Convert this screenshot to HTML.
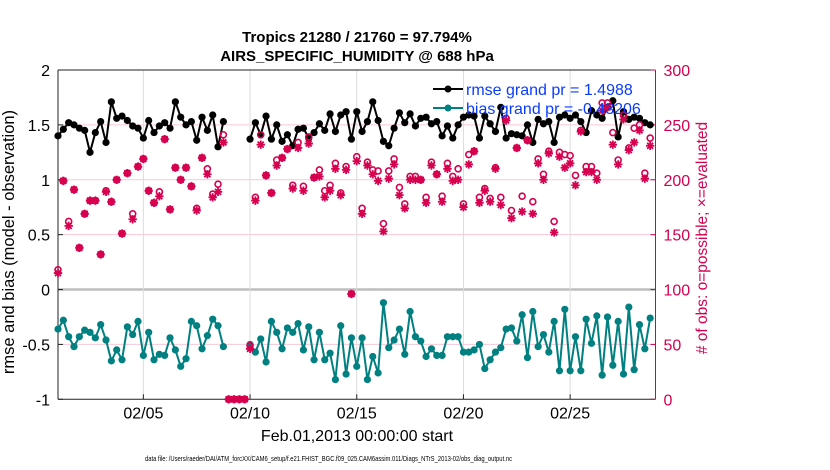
<!DOCTYPE html>
<html><head><meta charset="utf-8"><style>
body{margin:0;background:#fff;}
svg{display:block;font-family:"Liberation Sans",Arial,sans-serif;}
</style></head><body>
<svg id="chart" width="830" height="470" viewBox="0 0 830 470">
<rect width="830" height="470" fill="#fff"/>
<text x="357" y="42" text-anchor="middle" font-size="15" font-weight="bold">Tropics 21280 / 21760 = 97.794%</text>
<text x="357" y="61" text-anchor="middle" font-size="15" font-weight="bold">AIRS_SPECIFIC_HUMIDITY @ 688 hPa</text>
<g id="grid"></g>
<g id="axes"></g>
<g id="marks"></g>
<g id="legend">
<line x1="433" y1="89" x2="463" y2="89" stroke="#000" stroke-width="2"/>
<circle cx="448" cy="89" r="3.5" fill="#000"/>
<text x="466" y="95" font-size="16" fill="#0a3cff">rmse grand pr = 1.4988</text>
<line x1="433" y1="108" x2="463" y2="108" stroke="#008080" stroke-width="2"/>
<circle cx="448" cy="108" r="3.5" fill="#008080"/>
<text x="466" y="114" font-size="16" fill="#0a3cff">bias grand pr = -0.43206</text>
</g>
<text x="357" y="441" text-anchor="middle" font-size="16">Feb.01,2013 00:00:00 start</text>
<text x="14" y="242" text-anchor="middle" font-size="16.5" transform="rotate(-90 14 242)">rmse and bias (model - observation)</text>
<text x="707" y="238" text-anchor="middle" font-size="15.5" fill="#d6004f" transform="rotate(-90 707 238)"># of obs: o=possible; ×=evaluated</text>
<text x="145" y="461" font-size="7.5" textLength="367" lengthAdjust="spacingAndGlyphs">data file: /Users/raeder/DAI/ATM_forcXX/CAM6_setup/f.e21.FHIST_BGC.f09_025.CAM6assim.011/Diags_NTrS_2013-02/obs_diag_output.nc</text>
</svg>
<script>
const rmse=[1.40,1.46,1.52,1.50,1.47,1.45,1.25,1.43,1.53,1.34,1.71,1.56,1.58,1.54,1.49,1.47,1.38,1.54,1.43,1.49,1.52,1.47,1.71,1.57,1.50,1.53,1.36,1.57,1.45,1.59,1.30,1.53,null,null,null,null,1.37,1.52,1.41,1.58,1.37,1.50,1.35,1.41,1.31,1.46,1.47,1.38,1.43,1.51,1.45,1.60,1.44,1.59,1.62,1.37,1.62,1.44,1.53,1.71,1.54,1.35,1.31,1.47,1.61,1.52,1.60,1.49,1.56,1.57,1.51,1.53,1.40,1.49,1.38,1.50,1.57,1.59,1.58,1.38,1.58,1.51,1.44,1.66,1.38,1.42,1.41,1.40,1.50,1.34,1.55,1.51,1.53,1.34,1.57,1.59,1.56,1.59,1.53,1.43,1.63,1.59,1.56,1.66,1.72,1.39,1.62,1.55,1.57,1.56,1.52,1.50];
const bias=[-0.36,-0.28,-0.43,-0.52,-0.43,-0.37,-0.39,-0.44,-0.32,-0.46,-0.65,-0.55,-0.64,-0.34,-0.41,-0.29,-0.60,-0.39,-0.64,-0.59,-0.60,-0.44,-0.55,-0.70,-0.63,-0.29,-0.33,-0.54,-0.42,-0.27,-0.33,-0.52,null,null,null,null,-0.50,-0.57,-0.45,-0.66,-0.29,-0.39,-0.54,-0.35,-0.39,-0.31,-0.55,-0.34,-0.64,-0.39,-0.64,-0.58,-0.82,-0.33,-0.77,-0.44,-0.70,-0.44,-0.82,-0.61,-0.76,-0.12,-0.53,-0.46,-0.36,-0.59,-0.20,-0.43,-0.47,-0.61,-0.54,-0.60,-0.60,-0.43,-0.43,-0.43,-0.57,-0.57,-0.55,-0.50,-0.72,-0.64,-0.57,-0.53,-0.36,-0.35,-0.47,-0.23,-0.62,-0.20,-0.52,-0.41,-0.57,-0.29,-0.74,-0.18,-0.74,-0.43,-0.74,-0.27,-0.49,-0.24,-0.78,-0.25,-0.69,-0.29,-0.77,-0.16,-0.73,-0.32,-0.54,-0.26];
const evaluated=[115,199,158,191,138,169,181,181,132,189,180,200,151,206,164,212,219,190,179,185,237,173,211,200,211,194,172,220,205,184,189,234,0,0,0,0,46,181,232,204,188,213,220,228,192,229,190,233,202,203,184,190,210,186,209,96,217,169,213,205,199,153,201,214,186,174,200,200,200,179,213,205,180,210,199,200,175,214,226,179,190,180,210,177,254,165,229,171,236,169,215,200,224,152,221,211,215,195,244,207,207,200,263,266,232,214,255,227,234,245,201,231];
const possible=[118,199,162,191,138,169,181,181,132,190,180,200,151,206,169,212,219,190,179,189,237,173,211,200,211,194,174,220,210,187,196,241,0,0,0,0,49,184,241,204,188,218,220,228,195,234,194,239,202,209,190,195,215,188,212,96,221,174,216,209,208,160,208,219,193,178,203,203,200,184,216,205,185,215,203,210,178,223,226,184,192,183,211,184,256,172,229,185,236,180,219,205,226,162,225,223,222,204,245,212,212,206,270,270,243,218,259,229,247,250,206,238];
const yTicksLeft=[2,1.5,1,0.5,0,-0.5,-1];
const yTicksRight=[300,250,200,150,100,50,0];
const xTickDays=[4,9,14,19,24];
const xTickLabels=['02/05','02/10','02/15','02/20','02/25'];

const NS='http://www.w3.org/2000/svg';
const L=58,R=655.5,T=70,B=399.3,DAYS=28;
const PINK='#d6004f',TEAL='#008080';
const xDay=d=>L+(R-L)*d/DAYS;
const xIdx=i=>xDay(i*0.25);
const yL=v=>B-(v+1)/3*(B-T);
const yR=v=>B-v/300*(B-T);
function mk(tag,attrs,parent){const e=document.createElementNS(NS,tag);for(const k in attrs)e.setAttribute(k,attrs[k]);parent.appendChild(e);return e;}
const grid=document.getElementById('grid'),axes=document.getElementById('axes'),marks=document.getElementById('marks');

yTicksLeft.forEach(v=>{
  if(v===2||v===-1)return;
  const g=mk('line',{x1:L,x2:R,y1:yL(v),y2:yL(v),stroke:v===0?'#bdbdbd':'#f6c8d8','stroke-width':v===0?2.5:1},grid);
  
  
});
xTickDays.forEach(d=>{
  const g=mk('line',{x1:xDay(d),x2:xDay(d),y1:T,y2:B,stroke:'#dcdcdc','stroke-width':1},grid);
  
  
});
let a;
a=mk('line',{x1:L,x2:L,y1:T,y2:B,stroke:'#222','stroke-width':1},axes);

a=mk('line',{x1:L,x2:R,y1:B,y2:B,stroke:'#222','stroke-width':1},axes);

a=mk('line',{x1:L,x2:R,y1:T,y2:T,stroke:'#222','stroke-width':1},axes);

a=mk('line',{x1:R,x2:R,y1:T,y2:B,stroke:PINK,'stroke-width':1},axes);

yTicksLeft.forEach(v=>{
  const y=yL(v);
  const t=mk('line',{x1:L,x2:L+5,y1:y,y2:y,stroke:'#222'},axes);
  
  const tx=mk('text',{x:L-8,y:y+6,'text-anchor':'end','font-size':16},axes);
  tx.textContent=String(v);
  
});
yTicksRight.forEach(v=>{
  const y=yR(v);
  const t=mk('line',{x1:R-5,x2:R,y1:y,y2:y,stroke:PINK},axes);
  
  const tx=mk('text',{x:R+8,y:y+6,'font-size':16,fill:PINK},axes);
  tx.textContent=String(v);
  
});
xTickDays.forEach((d,k)=>{
  const x=xDay(d);
  const t=mk('line',{x1:x,x2:x,y1:B-5,y2:B,stroke:'#222'},axes);
  
  const tx=mk('text',{x:x,y:B+19,'text-anchor':'middle','font-size':16},axes);
  tx.textContent=xTickLabels[k];
  
});

function series(arr,color,name){
  let d='',pen=false;
  arr.forEach((v,i)=>{if(v===null){pen=false;return;}d+=(pen?'L':'M')+xIdx(i).toFixed(2)+' '+yL(v).toFixed(2);pen=true;});
  const p=mk('path',{d:d,fill:'none',stroke:color,'stroke-width':2},marks);
  
  arr.forEach((v,i)=>{if(v===null)return;
    const c=mk('circle',{cx:xIdx(i),cy:yL(v),r:3.6,fill:color},marks);
    
  });
}
series(rmse,'#000','rmse');
series(bias,TEAL,'bias');
possible.forEach((v,i)=>{
  const c=mk('circle',{cx:xIdx(i),cy:yR(v),r:3,fill:'none',stroke:PINK,'stroke-width':1.6},marks);
  
});
evaluated.forEach((v,i)=>{
  const x=xIdx(i),y=yR(v),s=4.2,q=3;
  const d=`M${x-s} ${y}L${x+s} ${y}M${x} ${y-s}L${x} ${y+s}M${x-q} ${y-q}L${x+q} ${y+q}M${x-q} ${y+q}L${x+q} ${y-q}`;
  const p=mk('path',{d:d,stroke:PINK,'stroke-width':1.8,fill:'none'},marks);
  
});
</script>
</body></html>
